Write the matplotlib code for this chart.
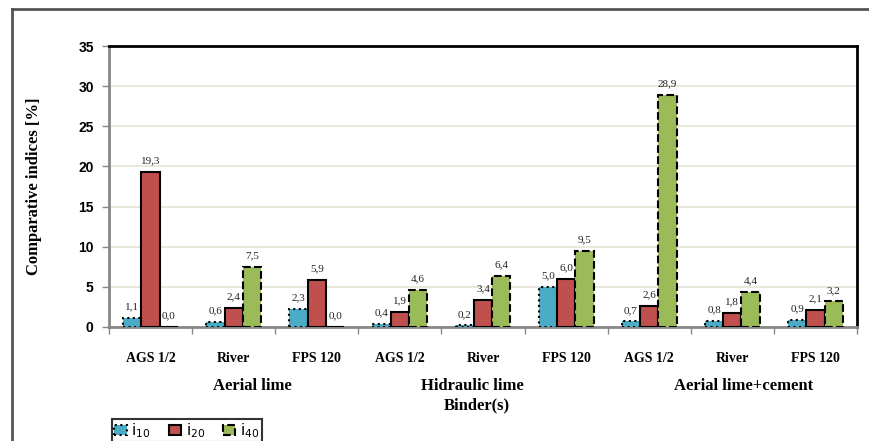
import matplotlib
matplotlib.use("Agg")
import matplotlib.pyplot as plt
import numpy as np
from matplotlib.lines import Line2D

categories = ["AGS 1/2", "River", "FPS 120", "AGS 1/2", "River", "FPS 120", "AGS 1/2", "River", "FPS 120"]
groups = ["Aerial lime", "Hidraulic lime", "Aerial lime+cement"]
i10 = [1.1, 0.6, 2.3, 0.4, 0.2, 5.0, 0.7, 0.8, 0.9]
i20 = [19.3, 2.4, 5.9, 1.9, 3.4, 6.0, 2.6, 1.8, 2.1]
i40 = [0.0, 7.5, 0.0, 4.6, 6.4, 9.5, 28.9, 4.4, 3.2]
series_names = ["$\\mathregular{i_{10}}$", "$\\mathregular{i_{20}}$", "$\\mathregular{i_{40}}$"]
yticks = [0, 5, 10, 15, 20, 25, 30, 35]

plt.rcParams['mathtext.fontset'] = 'stix'

fig = plt.figure(figsize=(8.7, 4.41), dpi=100)
ax = fig.add_axes([109/870, 1-327/441, (857-109)/870, (327-46)/441])

x = np.arange(len(categories))
w = 0.22
colors = ["#4bacc6", "#c0504d", "#9bbb59"]
styles = [":", "-", "--"]
series = [i10, i20, i40]
for k, (vals, c, ls) in enumerate(zip(series, colors, styles)):
    ax.bar(x + (k-1)*w, vals, w, color=c, edgecolor="black", linewidth=1.5,
           linestyle=ls, label=series_names[k], zorder=3)
    for xi, v in zip(x + (k-1)*w, vals):
        ax.text(xi, v + 0.8, f"{v:.1f}".replace(".", ","), ha="center", va="bottom",
                fontsize=8, family="Liberation Serif", color="#222222", zorder=4)

ax.set_xlim(-0.5, len(categories)-0.5)
ax.set_ylim(0, 35)
ax.set_yticks(yticks)
ax.set_yticklabels([str(t) for t in yticks], fontsize=10, fontweight="bold", family="Liberation Sans")
ax.yaxis.grid(True, color="#e4e4d6", linewidth=1.2, zorder=0)
ax.set_axisbelow(True)

ax.set_xticks(x)
ax.set_xticklabels(categories, fontsize=10, fontweight="bold", family="Liberation Serif")
ax.tick_params(axis="x", which="major", length=0, pad=18)
ax.set_xticks(np.arange(-0.5, len(categories), 1), minor=True)
ax.tick_params(axis="x", which="minor", length=5, color="#888888", direction="out", width=1)
ax.tick_params(axis="y", length=5, color="#888888", width=1, pad=6)

for s in ["top", "right"]:
    ax.spines[s].set_color("black")
    ax.spines[s].set_linewidth(2)
for s in ["left", "bottom"]:
    ax.spines[s].set_color("#888888")
    ax.spines[s].set_linewidth(2)

ax.set_ylabel("Comparative indices [%]", fontsize=12, fontweight="bold", family="Liberation Serif", labelpad=26)

# group labels
group_pos = [1.22, 3.87, 7.14]
for g, gx in zip(groups, group_pos):
    ax.text(gx, -0.21, g, transform=ax.get_xaxis_transform(), ha="center", va="center",
            fontsize=12, fontweight="bold", family="Liberation Serif")
ax.text(3.92, -0.28, "Binder(s)", transform=ax.get_xaxis_transform(), ha="center", va="center",
        fontsize=12, fontweight="bold", family="Liberation Serif")

# outer frame (left and top edges)
fig.add_artist(Line2D([12/870, 12/870], [0, 1-9/441], transform=fig.transFigure, color="#555555", lw=2))
fig.add_artist(Line2D([12/870, 1], [1-9/441, 1-9/441], transform=fig.transFigure, color="#555555", lw=2))

leg = fig.legend(loc="upper left", bbox_to_anchor=(112/870, 1-419/441), ncol=3, frameon=True,
                 fancybox=False, edgecolor="black", fontsize=11, handlelength=0.8, handleheight=0.7,
                 columnspacing=1.2, handletextpad=0.3, borderpad=0.15, borderaxespad=0)
leg.get_frame().set_linewidth(1.5)

fig.savefig("out.png", dpi=100)
